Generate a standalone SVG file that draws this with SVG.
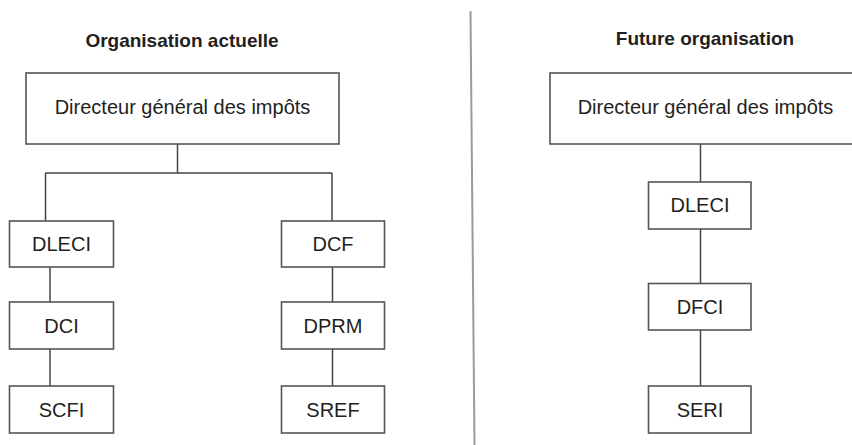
<svg xmlns="http://www.w3.org/2000/svg" width="852" height="445" viewBox="0 0 852 445">
<style>
.box{fill:#fff;stroke:#555;stroke-width:1.6}
.lbl{font-family:"Liberation Sans",Arial,sans-serif;font-size:20px;fill:#231f20;text-anchor:middle}
.ttl{font-family:"Liberation Sans",Arial,sans-serif;font-size:19px;font-weight:bold;fill:#231f20;text-anchor:middle}
.con{stroke:#444;stroke-width:1.5;fill:none}
</style>
<rect width="852" height="445" fill="#fff"/>
<line x1="470.5" y1="11" x2="474.5" y2="445" stroke="#9a9a9a" stroke-width="2"/>
<text class="ttl" x="182" y="46.5">Organisation actuelle</text>
<text class="ttl" x="705" y="44.5">Future organisation</text>
<g id="connectors">
<path class="con" d="M177.5 144V173M45.5 173H332M45.5 173V221M332 173V221M50 267V302M50 349V386M332.5 267V302M332.5 349V386"/>
<path class="con" d="M700.5 144V182M700.5 229V283M700.5 330V386"/>
</g>
<g id="dg-left"><rect class="box" x="26" y="73" width="313" height="71"/><text class="lbl" x="182.5" y="114">Directeur général des impôts</text></g>
<g id="dleci-left"><rect class="box" x="9.5" y="221" width="104" height="46"/><text class="lbl" x="61.5" y="251">DLECI</text></g>
<g id="dci"><rect class="box" x="9.5" y="302" width="104" height="47"/><text class="lbl" x="61.5" y="333">DCI</text></g>
<g id="scfi"><rect class="box" x="9.5" y="386" width="104" height="47"/><text class="lbl" x="61.5" y="417">SCFI</text></g>
<g id="dcf"><rect class="box" x="281.5" y="221" width="103" height="46"/><text class="lbl" x="333" y="251">DCF</text></g>
<g id="dprm"><rect class="box" x="281.5" y="302" width="103" height="47"/><text class="lbl" x="333" y="333">DPRM</text></g>
<g id="sref"><rect class="box" x="281.5" y="386" width="103" height="47"/><text class="lbl" x="333" y="417">SREF</text></g>
<g id="dg-right"><rect class="box" x="550" y="73" width="320" height="71"/><text class="lbl" x="705.5" y="114">Directeur général des impôts</text></g>
<g id="dleci-right"><rect class="box" x="648.5" y="182" width="102.5" height="47"/><text class="lbl" x="700" y="212">DLECI</text></g>
<g id="dfci"><rect class="box" x="648.5" y="283.5" width="102.5" height="46.5"/><text class="lbl" x="700" y="314">DFCI</text></g>
<g id="seri"><rect class="box" x="648.5" y="386" width="102.5" height="47"/><text class="lbl" x="700" y="417">SERI</text></g>
</svg>
